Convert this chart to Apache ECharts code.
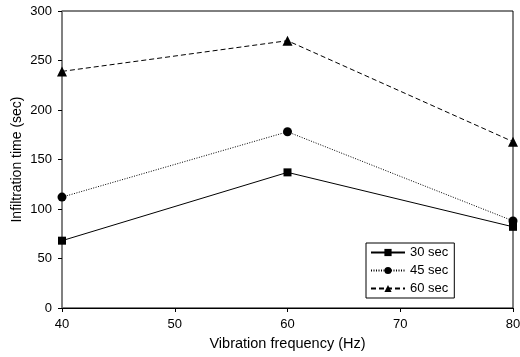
<!DOCTYPE html>
<html>
<head>
<meta charset="utf-8">
<script src="https://cdn.jsdelivr.net/npm/echarts@6/dist/echarts.min.js"></script>
<style>
  html, body { margin: 0; padding: 0; background: #fff; }
  #chart { width: 520px; height: 357px; }
</style>
</head>
<body>
<div id="chart"></div>
<script>
// vibration frequency (Hz)
const frequencies = [40, 60, 80]
const seriesNames = ['30 sec', '45 sec', '60 sec']
// infiltration time (sec)
const time30 = [68, 137, 82]
const time45 = [112, 178, 88]
const time60 = [239, 270, 168]

const lineTypes = ['solid', [1, 1.5], [5, 3]]
const symbols = ['rect', 'circle', 'triangle']
const symbolSizes = [8, 9, 10]

const pairs = values => frequencies.map((f, i) => [f, values[i]])

const chart = echarts.init(document.getElementById('chart'))
const font = 'Liberation Sans, Arial, sans-serif'

chart.setOption({
  animation: false,
  textStyle: { fontFamily: font },
  grid: {
    left: 62, right: 7, top: 11, bottom: 49,
    outerBoundsMode: 'none',
    show: true, borderColor: '#000', borderWidth: 1
  },
  legend: {
    orient: 'vertical',
    left: 366, top: 243,
    itemWidth: 34, itemHeight: 9, itemGap: 5,
    padding: [3, 6, 3, 4],
    borderColor: '#000', borderWidth: 1,
    textStyle: { fontSize: 13, color: '#000', fontFamily: font },
    data: seriesNames
  },
  xAxis: {
    type: 'value',
    min: 40, max: 80, interval: 10,
    name: 'Vibration frequency (Hz)',
    nameLocation: 'middle', nameGap: 28,
    nameMoveOverlap: false,
    nameTextStyle: { fontSize: 14.5, color: '#000', fontFamily: font },
    axisLine: { lineStyle: { color: '#000', width: 1 } },
    axisTick: { inside: false, length: 4, lineStyle: { color: '#000' } },
    axisLabel: { fontSize: 13, color: '#000', margin: 10 },
    splitLine: { show: false }
  },
  yAxis: {
    type: 'value',
    min: 0, max: 300, interval: 50,
    name: 'Infiltration time (sec)',
    nameLocation: 'middle', nameGap: 38,
    nameMoveOverlap: false,
    nameTextStyle: { fontSize: 14, color: '#000', fontFamily: font },
    axisLine: { show: true, lineStyle: { color: '#808080', width: 1.5 } },
    axisTick: { inside: false, length: 4, lineStyle: { color: '#000' } },
    axisLabel: { fontSize: 13, color: '#000', margin: 10 },
    splitLine: { show: false }
  },
  series: [time30, time45, time60].map((values, i) => ({
    name: seriesNames[i],
    type: 'line',
    data: pairs(values),
    symbol: symbols[i],
    symbolSize: symbolSizes[i],
    showAllSymbol: true,
    itemStyle: { color: '#000' },
    lineStyle: { color: '#000', width: 1, type: lineTypes[i] }
  }))
})
</script>
</body>
</html>
